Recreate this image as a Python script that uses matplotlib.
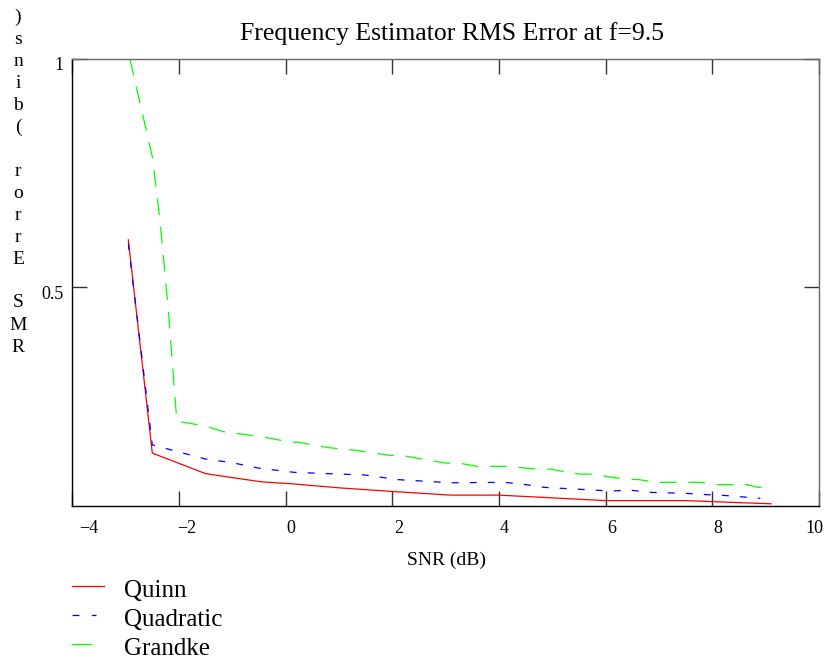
import matplotlib
matplotlib.use("Agg")
import matplotlib.pyplot as plt
import matplotlib.transforms as mtransforms
from matplotlib.lines import Line2D

plt.rcParams["font.family"] = ["Liberation Serif", "DejaVu Serif"]
plt.rcParams["lines.scale_dashes"] = False

# SNR (dB) and RMS error (bins)
quinn_snr = [-2.95, -2.5, -1.5, -0.45, 0.1, 1.0, 2.0, 3.1, 4.0, 5.0, 6.0, 7.5, 9.1]
quinn_err = [0.604, 0.137, 0.092, 0.074, 0.070, 0.061, 0.053, 0.045, 0.045, 0.039, 0.033, 0.033, 0.026]

quad_snr = [-2.95, -2.5, -1.5, -1.0, -0.5, 0.15, 0.8, 1.5, 2.1, 3.1, 4.1, 4.5, 4.85, 6.1, 6.45, 6.85, 7.5, 7.9, 8.15, 8.9]
quad_err = [0.596, 0.155, 0.124, 0.116, 0.104, 0.095, 0.092, 0.089, 0.079, 0.072, 0.073, 0.068, 0.062, 0.054, 0.056, 0.051, 0.049, 0.046, 0.045, 0.038]

grandke_snr = [-2.92, -2.5, -2.35, -2.2, -2.04, -1.5, -1.17, -0.85, -0.45, 0.08, 0.24, 0.46, 0.8, 1.33,
               1.62, 1.96, 2.18, 2.46, 3.0, 3.26, 3.59, 4.15, 4.7, 4.96, 5.24, 5.52, 5.8, 6.06, 6.4,
               6.62, 6.95, 7.49, 7.78, 8.06, 8.65, 8.86, 9.1]
grandke_err = [1.0, 0.786, 0.64, 0.45, 0.207, 0.196, 0.184, 0.179, 0.173, 0.161, 0.161, 0.156, 0.149, 0.143,
               0.138, 0.132, 0.132, 0.126, 0.115, 0.115, 0.108, 0.108, 0.102, 0.102, 0.096, 0.091, 0.091, 0.085, 0.080,
               0.079, 0.073, 0.073, 0.073, 0.068, 0.068, 0.062, 0.062]

x_ticks = [-4, -2, 0, 2, 4, 6, 8, 10]
y_ticks = [0.5, 1]
y_tick_labels = ["0.5", "1"]
y_label = "RMS Error (bins)"

fig = plt.figure(figsize=(8.29, 6.67), dpi=100)
W, H = 829.0, 667.0
ax = fig.add_axes([72.3 / W, 1 - 506 / H, (819 - 72.3) / W, (506 - 59) / H])

lw = 0.9
ax.plot(quinn_snr, quinn_err, color="#ff0000", lw=lw)
ax.plot(quad_snr, quad_err, color="#0000ff", lw=lw, dashes=(5, 8))
ax.plot(grandke_snr, grandke_err, color="#00ff00", lw=lw, dashes=(12, 8.5))

ax.set_xlim(-4, 10)
ax.set_ylim(0.0212, 1.0)
ax.set_xticks(x_ticks)
ax.set_yticks(y_ticks)
ax.set_yticklabels(y_tick_labels)
ax.tick_params(direction="in", length=11, width=1, labelsize=13, top=True, right=True,
               colors="#333333", labelcolor="black")
ax.tick_params(axis="x", pad=10)
ax.tick_params(axis="y", pad=6.5)
for side in ["left", "bottom"]:
    ax.spines[side].set_color("black")
for side in ["top", "right"]:
    ax.spines[side].set_color("#666666")
for s in ax.spines.values():
    s.set_linewidth(1)

# Mathcad puts the numbers a little right of the ticks
x_shift = [16, 8, 5, 6, 5, 6, 5, -5]
fig.canvas.draw()
for lab, dx in zip(ax.get_xticklabels(), x_shift):
    lab.set_transform(lab.get_transform() + mtransforms.ScaledTranslation(dx / 100, 0, fig.dpi_scale_trans))
for lab in ax.get_yticklabels():
    lab.set_transform(lab.get_transform() + mtransforms.ScaledTranslation(0, -5 / 100, fig.dpi_scale_trans))

fig.text(452 / W, 1 - 34 / H, "Frequency Estimator RMS Error at f=9.5", ha="center", va="center", fontsize=18.5)
fig.text(447 / W, 1 - 560 / H, "SNR (dB)", ha="center", va="center", fontsize=14)

# vertical stacked y label, read bottom to top
for i, ch in enumerate(reversed(y_label)):
    fig.text(18 / W, 1 - (17 + 22 * i) / H, ch, ha="center", va="center", fontsize=14)

# legend below the plot
leg = [("Quinn", "#ff0000", None, 104, 591),
       ("Quadratic", "#0000ff", (5, 9), 96, 620),
       ("Grandke", "#00ff00", None, 91, 649)]
for name, col, dash, x_end, yc in leg:
    ly = 1 - (yc - 5) / H
    line = Line2D([72 / W, x_end / W], [ly, ly], transform=fig.transFigure, color=col, lw=lw)
    if dash:
        line.set_dashes(dash)
    fig.add_artist(line)
    fig.text(124 / W, 1 - yc / H, name, ha="left", va="center", fontsize=18)

fig.savefig("out.png", dpi=100)
